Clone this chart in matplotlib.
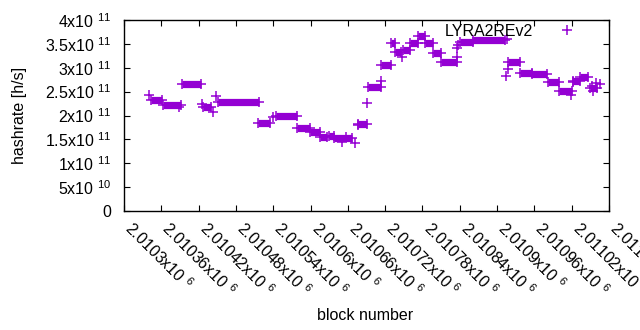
import matplotlib
matplotlib.use("Agg")
import matplotlib.pyplot as plt
import matplotlib.transforms as mtransforms
from matplotlib.lines import Line2D

plt.rcParams['font.family'] = ['Liberation Sans', 'DejaVu Sans']
plt.rcParams['mathtext.fontset'] = 'custom'
plt.rcParams['mathtext.rm'] = 'Liberation Sans'
plt.rcParams['mathtext.it'] = 'Liberation Sans'

# constant-hashrate runs of blocks (start block, end block, hashrate)
seg_start = [2010343, 2010363, 2010393, 2010427, 2010451, 2010515, 2010544, 2010578,
             2010599, 2010615, 2010630, 2010638, 2010676, 2010692, 2010713, 2010729,
             2010736, 2010749, 2010760, 2010773, 2010784, 2010797, 2010810, 2010840,
             2010861, 2010917, 2010937, 2010956, 2010982, 2010999, 2011022, 2011033,
             2011049]
seg_end = [2010361, 2010392, 2010424, 2010440, 2010517, 2010535, 2010578, 2010599,
           2010615, 2010626, 2010638, 2010667, 2010691, 2010713, 2010729, 2010736,
           2010745, 2010760, 2010773, 2010784, 2010797, 2010810, 2010835, 2010861,
           2010913, 2010937, 2010956, 2010980, 2010999, 2011020, 2011033, 2011046,
           2011061]
seg_value = [2.32e11, 2.22e11, 2.65e11, 2.18e11, 2.28e11, 1.85e11, 1.99e11, 1.73e11,
             1.65e11, 1.56e11, 1.57e11, 1.53e11, 1.82e11, 2.60e11, 3.05e11, 3.51e11,
             3.34e11, 3.37e11, 3.51e11, 3.66e11, 3.51e11, 3.31e11, 3.13e11, 3.53e11,
             3.59e11, 3.12e11, 2.90e11, 2.86e11, 2.71e11, 2.52e11, 2.72e11, 2.80e11,
             2.58e11]

# isolated samples
pt_block = [2010340, 2010388, 2010425, 2010443, 2010448, 2010540, 2010657, 2010650,
            2010671, 2010676, 2010691, 2010713, 2010747, 2010835, 2010835, 2010837,
            2010916, 2010914, 2010917, 2011019, 2011022, 2011053, 2011059, 2011065,
            2011054]
pt_value = [2.43e11, 2.18e11, 2.24e11, 2.07e11, 2.41e11, 1.97e11, 1.55e11, 1.45e11,
            1.42e11, 1.80e11, 2.26e11, 2.72e11, 3.22e11, 3.22e11, 3.41e11, 3.48e11,
            3.60e11, 2.83e11, 2.97e11, 2.43e11, 2.70e11, 2.62e11, 2.68e11, 2.66e11,
            2.51e11]

xticks = [2010300 + 60 * i for i in range(14)]
xtick_labels = ["2.0103", "2.01036", "2.01042", "2.01048", "2.01054", "2.0106",
                "2.01066", "2.01072", "2.01078", "2.01084", "2.0109", "2.01096",
                "2.01102", "2.01108"]
yticks = [0, 5e10, 1e11, 1.5e11, 2e11, 2.5e11, 3e11, 3.5e11, 4e11]
ytick_labels = ["0", "5x10 $^{10}$", "1x10 $^{11}$", "1.5x10 $^{11}$", "2x10 $^{11}$",
                "2.5x10 $^{11}$", "3x10 $^{11}$", "3.5x10 $^{11}$", "4x10 $^{11}$"]

color = '#9400D3'
fs = 11.5

fig = plt.figure(figsize=(6.4, 3.3), dpi=100)
ax = fig.add_axes([124 / 640, 1 - 211 / 330, 485 / 640, 191 / 330])

for s, e, v in zip(seg_start, seg_end, seg_value):
    ax.plot([s, e], [v, v], color=color, lw=5.2, solid_capstyle='butt')
    ax.plot([s, e], [v, v], ls='none', marker='+', ms=7, mew=1.1, color=color)
ax.plot(pt_block, pt_value, ls='none', marker='+', ms=7, mew=1.1, color=color)

ax.set_xlim(2010300, 2011080)
ax.set_ylim(0, 4e11)
ax.set_xticks(xticks)
ax.set_xticklabels([l + "x10 $^{6}$" for l in xtick_labels], rotation=-45,
                   ha='left', va='center', rotation_mode='anchor', fontsize=fs)
ax.set_yticks(yticks)
ax.set_yticklabels(ytick_labels, fontsize=fs)
ax.tick_params(direction='in', length=4, width=0.8, top=True, right=True,
               colors='black')
ax.tick_params(axis='y', pad=9)
ax.tick_params(axis='x', pad=10)
shift = mtransforms.ScaledTranslation(4 / 100, 0, fig.dpi_scale_trans)
for lab in ax.get_xticklabels():
    lab.set_transform(lab.get_transform() + shift)
for sp in ax.spines.values():
    sp.set_linewidth(1.0)

ax.set_ylabel("hashrate [h/s]", fontsize=fs)
ax.yaxis.set_label_coords(-0.20, 0.5)
fig.text(365 / 640, 1 - 316 / 330, "block number", fontsize=fs, ha='center', va='center')

h = Line2D([], [], ls='none', marker='+', ms=7, mew=1.1, color=color)
ax.legend([h], ["LYRA2REv2"], loc='center right',
          bbox_to_anchor=((587 - 124) / 485, (211 - 31) / 191),
          frameon=False, markerfirst=False, borderpad=0, borderaxespad=0,
          handlelength=2.5, handletextpad=0.9, fontsize=fs)

fig.savefig("out.png", dpi=100)
